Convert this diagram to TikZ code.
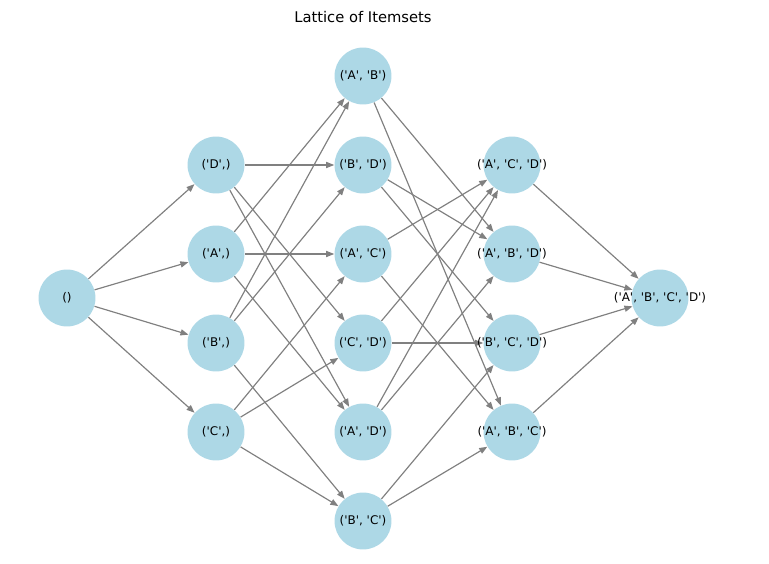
\documentclass[tikz,border=0pt]{standalone}
\usepackage{fontspec}
\setmainfont{DejaVu Sans}[Ligatures=TeXOff]
\usetikzlibrary{arrows.meta}
\definecolor{nodeblue}{HTML}{ADD8E6}
\definecolor{edgegray}{HTML}{808080}
\begin{document}
\begin{tikzpicture}[x=0.72pt,y=-0.72pt,
  circ/.style={circle,fill=nodeblue,draw=none,minimum size=41pt,inner sep=0pt},
  lbl/.style={font=\fontsize{8.6pt}{10pt}\selectfont,inner sep=0pt,text=black},
  edge/.style={draw=edgegray,line width=0.85pt,-{Triangle[length=5.8pt,width=4.4pt]}}]
\useasboundingbox (0,0) rectangle (769,564);
\node[font=\fontsize{10.6pt}{12pt}\selectfont,inner sep=0pt] (title) at (363,17) {Lattice of Itemsets};
% nodes
\node[circ] (e) at (67,298) {};
\node[circ] (d) at (216,165) {};
\node[circ] (a) at (216,254) {};
\node[circ] (b) at (216,343) {};
\node[circ] (c) at (216,432) {};
\node[circ] (ab) at (363,76) {};
\node[circ] (bd) at (363,165) {};
\node[circ] (ac) at (363,254) {};
\node[circ] (cd) at (363,343) {};
\node[circ] (ad) at (363,432) {};
\node[circ] (bc) at (363,521) {};
\node[circ] (acd) at (512,165) {};
\node[circ] (abd) at (512,254) {};
\node[circ] (bcd) at (512,343) {};
\node[circ] (abc) at (512,432) {};
\node[circ] (abcd) at (660,298) {};
% edges
\foreach \s in {d,a,b,c} \draw[edge] (e) -- (\s);
\draw[edge] (d) -- (bd);
\draw[edge] (d) -- (cd);
\draw[edge] (d) -- (ad);
\draw[edge] (a) -- (ab);
\draw[edge] (a) -- (ac);
\draw[edge] (a) -- (ad);
\draw[edge] (b) -- (ab);
\draw[edge] (b) -- (bd);
\draw[edge] (b) -- (bc);
\draw[edge] (c) -- (ac);
\draw[edge] (c) -- (cd);
\draw[edge] (c) -- (bc);
\draw[edge] (ab) -- (abd);
\draw[edge] (ab) -- (abc);
\draw[edge] (bd) -- (abd);
\draw[edge] (bd) -- (bcd);
\draw[edge] (ac) -- (acd);
\draw[edge] (ac) -- (abc);
\draw[edge] (cd) -- (acd);
\draw[edge] (cd) -- (bcd);
\draw[edge] (ad) -- (acd);
\draw[edge] (ad) -- (abd);
\draw[edge] (bc) -- (bcd);
\draw[edge] (bc) -- (abc);
\foreach \s in {acd,abd,bcd,abc} \draw[edge] (\s) -- (abcd);
% labels
\node[lbl] (e-t) at (e) {()};
\node[lbl] (d-t) at (d) {('D',)};
\node[lbl] (a-t) at (a) {('A',)};
\node[lbl] (b-t) at (b) {('B',)};
\node[lbl] (c-t) at (c) {('C',)};
\node[lbl] (ab-t) at (ab) {('A', 'B')};
\node[lbl] (bd-t) at (bd) {('B', 'D')};
\node[lbl] (ac-t) at (ac) {('A', 'C')};
\node[lbl] (cd-t) at (cd) {('C', 'D')};
\node[lbl] (ad-t) at (ad) {('A', 'D')};
\node[lbl] (bc-t) at (bc) {('B', 'C')};
\node[lbl] (acd-t) at (acd) {('A', 'C', 'D')};
\node[lbl] (abd-t) at (abd) {('A', 'B', 'D')};
\node[lbl] (bcd-t) at (bcd) {('B', 'C', 'D')};
\node[lbl] (abc-t) at (abc) {('A', 'B', 'C')};
\node[lbl] (abcd-t) at (abcd) {('A', 'B', 'C', 'D')};
\end{tikzpicture}
\end{document}
